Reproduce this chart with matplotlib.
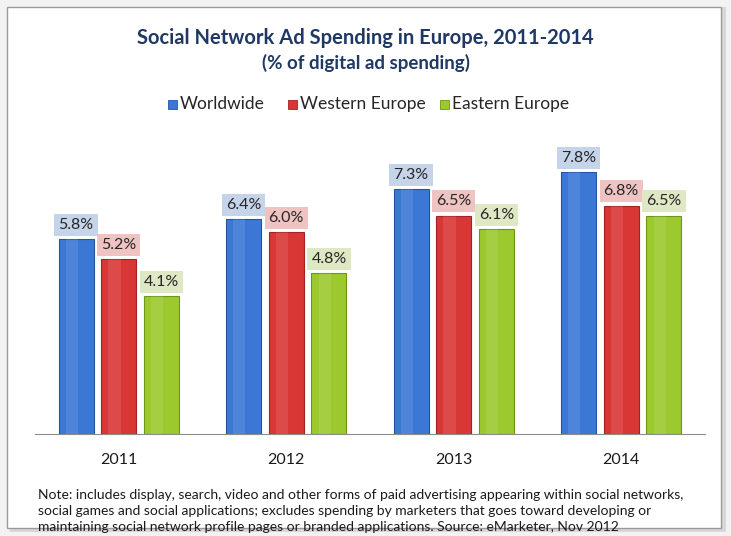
import numpy as np
import matplotlib.pyplot as plt
from matplotlib.patches import Rectangle

plt.rcParams['font.family'] = ['Lato', 'DejaVu Sans']

years = ['2011', '2012', '2013', '2014']
worldwide = [5.8, 6.4, 7.3, 7.8]
western = [5.2, 6.0, 6.5, 6.8]
eastern = [4.1, 4.8, 6.1, 6.5]

series = ['Worldwide', 'Western Europe', 'Eastern Europe']
bar_colors = ['#3b78d6', '#d93636', '#9cc92e']
edge_colors = ['#24569f', '#a52222', '#6f9419']
box_colors = ['#c6d4ea', '#f0c3c3', '#dfe8c4']


def main():
    fig = plt.figure(figsize=(7.31, 5.36), dpi=100)
    fig.patch.set_facecolor('#f2f2f2')

    # framed white card with a soft shadow
    fig.add_artist(Rectangle((10 / 731, 4 / 536), 716 / 731, 525 / 536,
                             transform=fig.transFigure, facecolor='#d8d8d8',
                             edgecolor='none', zorder=0))
    fig.add_artist(Rectangle((7 / 731, 8 / 536), 714 / 731, 521 / 536,
                             transform=fig.transFigure, facecolor='white',
                             edgecolor='#9a9a9a', linewidth=1.0, zorder=0))

    ax = fig.add_axes([35 / 731, 1 - 434 / 536, 670 / 731, 302.4 / 536])
    ax.set_facecolor('none')
    x = np.arange(len(years))
    w = 0.209
    offs = [-0.255, 0, 0.255]
    data = [worldwide, western, eastern]

    for vals, off, c, ec, bc in zip(data, offs, bar_colors, edge_colors, box_colors):
        ax.bar(x + off, vals, width=w, color=c, edgecolor=ec, linewidth=0.8, zorder=2)
        # lighter highlight strip for a glossy look
        ax.bar(x + off - w * 0.12, vals, width=w * 0.35, color='white', alpha=0.1,
               linewidth=0, zorder=3)
        for xi, v in zip(x + off, vals):
            ax.text(xi, v + 0.42, f'{v:.1f}%', ha='center', va='center', fontsize=11.5,
                    color='#262626', zorder=4,
                    bbox=dict(boxstyle='square,pad=0.25', facecolor=bc, edgecolor='none'))

    ax.set_xlim(-0.5, 3.5)
    ax.set_ylim(0, 9)
    ax.set_yticks([])
    ax.set_xticks(x)
    ax.set_xticklabels(years, fontsize=11.5, color='#1a1a1a')
    ax.tick_params(axis='x', length=0, pad=14)
    for s in ['top', 'right', 'left']:
        ax.spines[s].set_visible(False)
    ax.spines['bottom'].set_color('#8c8c8c')

    fig.text(0.5, 1 - 38 / 536, 'Social Network Ad Spending in Europe, 2011-2014',
             ha='center', va='center', fontsize=14.5, fontweight='bold', color='#1f3864')
    fig.text(0.5, 1 - 63 / 536, '(% of digital ad spending)',
             ha='center', va='center', fontsize=13.5, fontweight='bold', color='#1f3864')

    # legend
    leg_x = [168, 288, 440]
    for lx, name, c, ec in zip(leg_x, series, bar_colors, edge_colors):
        fig.add_artist(Rectangle((lx / 731, 1 - 109 / 536), 9 / 731, 9 / 536,
                                 transform=fig.transFigure, facecolor=c,
                                 edgecolor=ec, linewidth=0.6))
        fig.text((lx + 12) / 731, 1 - 104 / 536, name, ha='left', va='center',
                 fontsize=12.5, color='#262626')

    note = ('Note: includes display, search, video and other forms of paid advertising appearing within social networks,\n'
            'social games and social applications; excludes spending by marketers that goes toward developing or\n'
            'maintaining social network profile pages or branded applications. Source: eMarketer, Nov 2012')
    fig.text(38 / 731, 1 - 511 / 536, note, ha='left', va='center', fontsize=10,
             color='#1a1a1a', linespacing=1.4)

    fig.savefig('out.png', dpi=100)


if __name__ == "__main__":
    main()
